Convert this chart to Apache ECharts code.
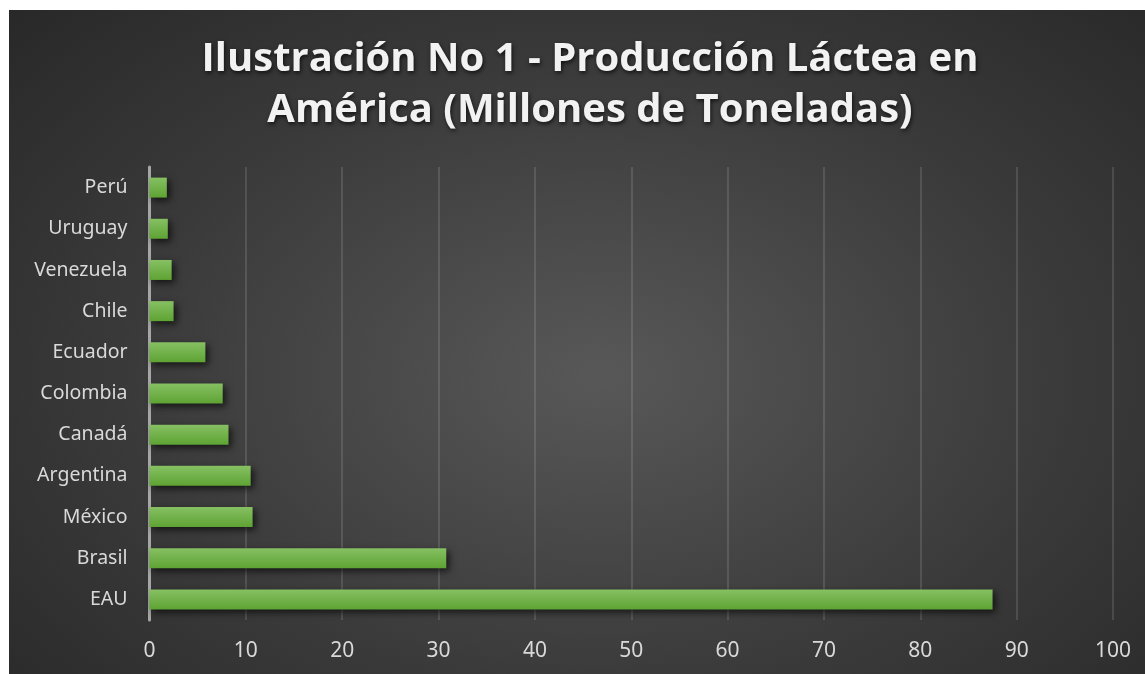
<!DOCTYPE html>
<html>
<head>
<meta charset="utf-8">
<script src="https://cdn.jsdelivr.net/npm/echarts@6/dist/echarts.min.js"></script>
<style>
html,body{margin:0;padding:0;background:#ffffff;width:1145px;height:674px;overflow:hidden;}
#chart{position:absolute;left:9px;top:10px;width:1136px;height:664px;
background:radial-gradient(ellipse 75% 85% at 52% 55%, #585858 0%, #3a3a3a 55%, #262626 100%);}
</style>
</head>
<body>
<div id="chart"></div>
<script>
const titleText = 'Ilustración No 1 - Producción Láctea en\nAmérica (Millones de Toneladas)';
const categories = ['EAU','Brasil','México','Argentina','Canadá','Colombia','Ecuador','Chile','Venezuela','Uruguay','Perú'];
const values = [87.5, 30.8, 10.7, 10.5, 8.2, 7.6, 5.8, 2.5, 2.3, 1.9, 1.8];
const xTicks = [0,10,20,30,40,50,60,70,80,90,100];

const chart = echarts.init(document.getElementById('chart'), null, {renderer:'canvas'});
chart.setOption({
  backgroundColor: 'transparent',
  animation: false,
  title: {
    text: titleText,
    left: 576,
    textAlign: 'center',
    top: 19,
    textStyle: {
      color: '#f2f2f2',
      fontFamily: 'Open Sans',
      fontWeight: 'bold',
      fontSize: 40,
      lineHeight: 51,
      textShadowColor: 'rgba(0,0,0,0.7)',
      textShadowBlur: 4,
      textShadowOffsetX: 1,
      textShadowOffsetY: 2
    }
  },
  grid: {left: 140.5, right: 32, top: 157, bottom: 54, containLabel: false},
  xAxis: {
    type: 'value',
    min: xTicks[0], max: xTicks[xTicks.length-1], interval: 10,
    axisLine: {show: false},
    axisTick: {show: false},
    axisLabel: {color: '#d9d9d9', fontFamily: 'Noto Sans', fontSize: 21, margin: 21},
    splitLine: {show: true, lineStyle: {color: 'rgba(255,255,255,0.12)', width: 2}}
  },
  yAxis: {
    type: 'category',
    data: categories,
    axisLine: {show: true, lineStyle: {color: '#a6a6a6', width: 3}},
    axisTick: {show: false},
    axisLabel: {color: '#d9d9d9', fontFamily: 'Noto Sans', fontSize: 19.5, margin: 22}
  },
  series: [{
    type: 'bar',
    data: values,
    barWidth: 20,
    itemStyle: {
      color: new echarts.graphic.LinearGradient(0,0,0,1,[
        {offset:0, color:'#86c063'},
        {offset:1, color:'#5ea333'}
      ]),
      shadowColor: 'rgba(0,0,0,0.65)',
      shadowBlur: 7,
      shadowOffsetX: 3,
      shadowOffsetY: 3
    }
  }]
});
</script>
</body>
</html>
